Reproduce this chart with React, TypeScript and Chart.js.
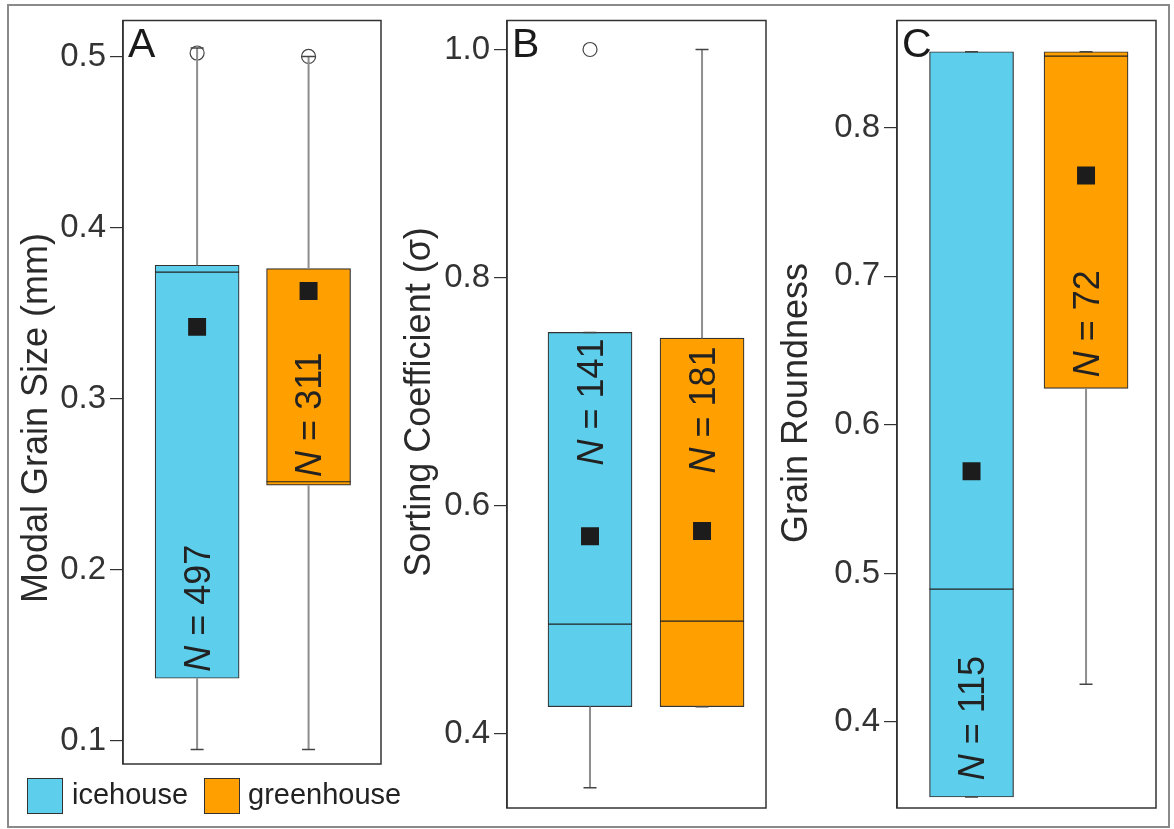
import React, { useEffect, useRef } from 'react';
import { Chart, registerables } from 'chart.js';

Chart.register(...registerables);

const FONT = "'Liberation Sans', Arial, sans-serif";

// Groups
const GROUPS = ['icehouse', 'greenhouse'];
const GROUP_X = [1, 2];
const COLORS = ['#5dcfec', '#ff9f00'];

// Panel A – Modal Grain Size (mm)
const A_TICKS = [0.1, 0.2, 0.3, 0.4, 0.5];
const A_Q1 = [0.1367, 0.2495];
const A_Q3 = [0.378, 0.376];
const A_MEDIAN = [0.374, 0.2515];
const A_MEAN = [0.342, 0.363];
const A_LOW = [0.095, 0.095];
const A_HIGH = [0.505, 0.5];
const A_OUTLIERS = [[0.502], [0.5]];
const A_N = [497, 311];
const A_N_AT = [0.1776, 0.2907];

// Panel B – Sorting Coefficient (σ)
const B_TICKS = [0.4, 0.6, 0.8, 1.0];
const B_Q1 = [0.424, 0.424];
const B_Q3 = [0.752, 0.747];
const B_MEDIAN = [0.4964, 0.499];
const B_MEAN = [0.5734, 0.578];
const B_LOW = [0.353, 0.424];
const B_HIGH = [0.752, 1.0];
const B_OUTLIERS = [[1.0], []];
const B_N = [141, 181];
const B_N_AT = [0.691, 0.684];

// Panel C – Grain Roundness
const C_TICKS = [0.4, 0.5, 0.6, 0.7, 0.8];
const C_Q1 = [0.3496, 0.6245];
const C_Q3 = [0.851, 0.851];
const C_MEDIAN = [0.4894, 0.848];
const C_MEAN = [0.5687, 0.7677];
const C_LOW = [0.3496, 0.4255];
const C_HIGH = [0.851, 0.851];
const C_OUTLIERS: number[][] = [[], []];
const C_N = [115, 72];
const C_N_AT = [0.4027, 0.668];

type Panel = {
  letter: string;
  title: string;
  ticks: number[];
  q1: number[];
  q3: number[];
  median: number[];
  mean: number[];
  low: number[];
  high: number[];
  outliers: number[][];
  n: number[];
  nAt: number[];
  yMin: number;
  yMax: number;
  xMin: number;
  xMax: number;
  canvasLeft: number;
  canvasWidth: number;
  axisWidth: number;
  pad: { top: number; bottom: number; right: number };
  titleOffset: number;
  titleY: number;
};

const PANELS: Panel[] = [
  {
    letter: 'A', title: 'Modal Grain Size (mm)', ticks: A_TICKS,
    q1: A_Q1, q3: A_Q3, median: A_MEDIAN, mean: A_MEAN, low: A_LOW, high: A_HIGH,
    outliers: A_OUTLIERS, n: A_N, nAt: A_N_AT,
    yMin: 0.0866, yMax: 0.521, xMin: 0.335, xMax: 2.65,
    canvasLeft: 0, canvasWidth: 395, axisWidth: 123,
    pad: { top: 19, bottom: 65, right: 14 },
    titleOffset: 76, titleY: 418,
  },
  {
    letter: 'B', title: 'Sorting Coefficient (σ)', ticks: B_TICKS,
    q1: B_Q1, q3: B_Q3, median: B_MEDIAN, mean: B_MEAN, low: B_LOW, high: B_HIGH,
    outliers: B_OUTLIERS, n: B_N, nAt: B_N_AT,
    yMin: 0.3352, yMax: 1.0254, xMin: 0.259, xMax: 2.571,
    canvasLeft: 385, canvasWidth: 395, axisWidth: 122,
    pad: { top: 20, bottom: 21, right: 14 },
    titleOffset: 77, titleY: 402,
  },
  {
    letter: 'C', title: 'Grain Roundness', ticks: C_TICKS,
    q1: C_Q1, q3: C_Q3, median: C_MEDIAN, mean: C_MEAN, low: C_LOW, high: C_HIGH,
    outliers: C_OUTLIERS, n: C_N, nAt: C_N_AT,
    yMin: 0.3422, yMax: 0.872, xMin: 0.349, xMax: 2.611,
    canvasLeft: 765, canvasWidth: 409, axisWidth: 132,
    pad: { top: 20, bottom: 21, right: 18 },
    titleOffset: 90, titleY: 403,
  },
];

const BOX_WIDTH = 84;
const CAP_WIDTH = 13;

function makeExtras(p: Panel) {
  return {
    id: 'boxExtras' + p.letter,
    afterDatasetsDraw(chart: any) {
      const { ctx, scales } = chart;
      const x = scales.x;
      const y = scales.y;
      ctx.save();
      GROUP_X.forEach((gx, i) => {
        const cx = x.getPixelForValue(gx);
        const half = BOX_WIDTH / 2;
        // whiskers
        ctx.strokeStyle = '#8e8e8e';
        ctx.lineWidth = 2;
        ctx.beginPath();
        if (p.high[i] > p.q3[i]) {
          ctx.moveTo(cx, y.getPixelForValue(p.q3[i]));
          ctx.lineTo(cx, y.getPixelForValue(p.high[i]));
        }
        if (p.low[i] < p.q1[i]) {
          ctx.moveTo(cx, y.getPixelForValue(p.q1[i]));
          ctx.lineTo(cx, y.getPixelForValue(p.low[i]));
        }
        ctx.stroke();
        // caps
        ctx.strokeStyle = '#444';
        ctx.lineWidth = 1.5;
        ctx.beginPath();
        [p.high[i], p.low[i]].forEach((v) => {
          const py = y.getPixelForValue(v);
          ctx.moveTo(cx - CAP_WIDTH / 2, py);
          ctx.lineTo(cx + CAP_WIDTH / 2, py);
        });
        ctx.stroke();
        // median
        ctx.strokeStyle = '#222';
        ctx.lineWidth = 1.2;
        ctx.beginPath();
        const my = y.getPixelForValue(p.median[i]);
        ctx.moveTo(cx - half, my);
        ctx.lineTo(cx + half, my);
        ctx.stroke();
        // N label
        const size = 36;
        const fN = `italic ${size}px ${FONT}`;
        const fR = `${size}px ${FONT}`;
        ctx.font = fN;
        const wN = ctx.measureText('N').width;
        const rest = ` = ${p.n[i]}`;
        ctx.font = fR;
        const wR = ctx.measureText(rest).width;
        ctx.save();
        ctx.translate(cx, y.getPixelForValue(p.nAt[i]));
        ctx.rotate(-Math.PI / 2);
        ctx.fillStyle = '#222';
        ctx.textAlign = 'left';
        ctx.textBaseline = 'alphabetic';
        const start = -(wN + wR) / 2;
        const base = (size * 0.716) / 2;
        ctx.font = fN;
        ctx.fillText('N', start, base);
        ctx.font = fR;
        ctx.fillText(rest, start + wN, base);
        ctx.restore();
      });
      ctx.restore();
    },
    afterDraw(chart: any) {
      const { ctx, chartArea } = chart;
      ctx.save();
      // frame
      ctx.strokeStyle = '#333';
      ctx.lineWidth = 1.5;
      ctx.strokeRect(chartArea.left, chartArea.top, chartArea.right - chartArea.left, chartArea.bottom - chartArea.top);
      // panel letter
      ctx.fillStyle = '#1a1a1a';
      ctx.font = `41px ${FONT}`;
      ctx.textAlign = 'left';
      ctx.textBaseline = 'alphabetic';
      ctx.fillText(p.letter, chartArea.left + 5, chartArea.top + 36);
      // y title
      ctx.save();
      ctx.translate(chartArea.left - p.titleOffset, p.titleY);
      ctx.rotate(-Math.PI / 2);
      ctx.fillStyle = '#2a2a2a';
      ctx.font = `36px ${FONT}`;
      ctx.textAlign = 'center';
      ctx.textBaseline = 'alphabetic';
      ctx.fillText(p.title, 0, 0);
      ctx.restore();
      ctx.restore();
    },
  };
}

function buildConfig(p: Panel): any {
  return {
    type: 'bar',
    data: {
      datasets: [
        {
          type: 'bar',
          label: 'box',
          data: GROUP_X.map((gx, i) => ({ x: gx, y: [p.q1[i], p.q3[i]] })),
          backgroundColor: COLORS,
          borderColor: '#333',
          borderWidth: 1.2,
          borderSkipped: false,
          barThickness: BOX_WIDTH,
          order: 3,
        },
        {
          type: 'scatter',
          label: 'outliers',
          data: p.outliers.flatMap((arr, i) => arr.map((v) => ({ x: GROUP_X[i], y: v }))),
          pointStyle: 'circle',
          pointRadius: 7,
          backgroundColor: 'rgba(255,255,255,0)',
          borderColor: '#444',
          borderWidth: 1.2,
          order: 2,
        },
        {
          type: 'scatter',
          label: 'mean',
          data: GROUP_X.map((gx, i) => ({ x: gx, y: p.mean[i] })),
          pointStyle: 'rect',
          pointRadius: 12.7,
          backgroundColor: '#1c1c1c',
          borderColor: '#1c1c1c',
          borderWidth: 0,
          order: 1,
        },
      ],
    },
    options: {
      responsive: false,
      animation: false,
      devicePixelRatio: 1,
      layout: { padding: { top: p.pad.top, bottom: p.pad.bottom, left: 0, right: p.pad.right } },
      plugins: { legend: { display: false }, tooltip: { enabled: false } },
      scales: {
        x: { type: 'linear', min: p.xMin, max: p.xMax, offset: false, display: false },
        y: {
          type: 'linear',
          min: p.yMin,
          max: p.yMax,
          afterBuildTicks: (s: any) => {
            s.ticks = p.ticks.map((v) => ({ value: v }));
          },
          afterFit: (s: any) => {
            s.width = p.axisWidth;
          },
          ticks: {
            callback: (v: any) => Number(v).toFixed(1),
            font: { family: FONT, size: 33, lineHeight: 1 },
            color: '#333',
            padding: 4,
          },
          grid: { drawOnChartArea: false, drawTicks: true, tickLength: 13, color: '#333', lineWidth: 1.2 },
          border: { display: true, color: '#333', width: 1.5 },
        },
      },
    },
    plugins: [makeExtras(p)],
  };
}

function PanelChart({ panel }: { panel: Panel }) {
  const ref = useRef<HTMLCanvasElement>(null);
  useEffect(() => {
    const chart = new Chart(ref.current as HTMLCanvasElement, buildConfig(panel));
    return () => chart.destroy();
  }, [panel]);
  return (
    <canvas
      ref={ref}
      width={panel.canvasWidth}
      height={829}
      style={{ position: 'absolute', left: panel.canvasLeft, top: 0, width: panel.canvasWidth, height: 829 }}
    />
  );
}

const LEGEND_POS = [
  { box: 27, text: 72 },
  { box: 204, text: 248 },
];

export default function App() {
  return (
    <div style={{ position: 'absolute', left: 0, top: 0, width: 1174, height: 829, background: '#fff', overflow: 'hidden' }}>
      <div
        style={{
          position: 'absolute', left: 7, top: 4, width: 1163, height: 824,
          border: '2px solid #8a8a8a', boxSizing: 'border-box',
        }}
      />
      {PANELS.map((p) => (
        <PanelChart key={p.letter} panel={p} />
      ))}
      {GROUPS.map((g, i) => (
        <React.Fragment key={g}>
          <div
            style={{
              position: 'absolute', left: LEGEND_POS[i].box, top: 778, width: 36, height: 36,
              background: COLORS[i], border: '1.5px solid #333', boxSizing: 'border-box',
            }}
          />
          <div
            style={{
              position: 'absolute', left: LEGEND_POS[i].text, top: 780, font: `29px ${FONT}`,
              lineHeight: '29px', color: '#222', whiteSpace: 'nowrap',
            }}
          >
            {g}
          </div>
        </React.Fragment>
      ))}
    </div>
  );
}
